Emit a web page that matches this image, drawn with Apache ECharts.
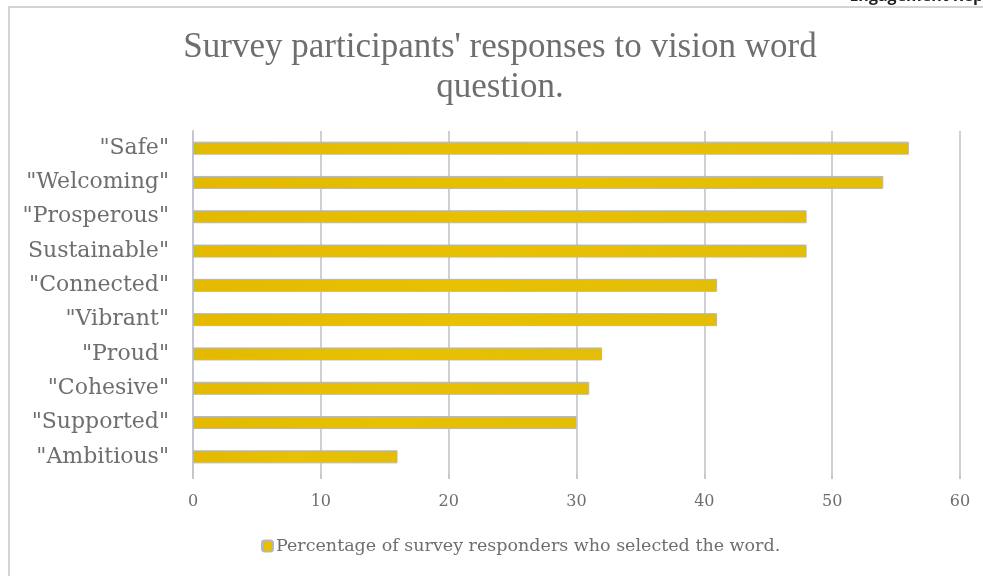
<!DOCTYPE html>
<html>
<head>
<meta charset="utf-8">
<script src="https://cdn.jsdelivr.net/npm/echarts@6/dist/echarts.min.js"></script>
<style>
  html, body { margin: 0; padding: 0; background: #fff; }
  #chart { width: 983px; height: 576px; }
</style>
</head>
<body>
<div id="chart"></div>
<script>
const words = ['"Safe"', '"Welcoming"', '"Prosperous"', 'Sustainable"', '"Connected"',
               '"Vibrant"', '"Proud"', '"Cohesive"', '"Supported"', '"Ambitious"'];
const percentages = [56, 54, 48, 48, 41, 41, 32, 31, 30, 16];
const xTicks = [0, 10, 20, 30, 40, 50, 60];
const seriesName = 'Percentage of survey responders who selected the word.';

const serif = '"Liberation Serif", "DejaVu Serif", serif';
const wideSerif = '"DejaVu Serif", serif';
const textGrey = '#6e6e6e';

const chart = echarts.init(document.getElementById('chart'));

chart.setOption({
  animation: false,
  backgroundColor: '#fff',
  title: {
    text: "Survey participants' responses to vision word\nquestion.",
    left: 495,
    textAlign: 'center',
    top: 23,
    textStyle: {
      fontFamily: serif,
      fontWeight: 'normal',
      fontSize: 35,
      lineHeight: 40,
      color: textGrey
    }
  },
  legend: {
    data: [seriesName],
    bottom: 16,
    left: 256,
    itemWidth: 11,
    itemHeight: 11,
    itemGap: 4,
    textStyle: { fontFamily: wideSerif, fontSize: 17.5, color: textGrey, padding: [0, 0, 0, -2] }
  },
  grid: { left: 193, right: 23, top: 131, bottom: 102, containLabel: false },
  xAxis: {
    type: 'value',
    min: xTicks[0],
    max: xTicks[xTicks.length - 1],
    interval: 10,
    axisLine: { show: false },
    axisTick: { show: true, length: 5, lineStyle: { color: '#c8c8c8', width: 2 } },
    axisLabel: { margin: 20, fontFamily: wideSerif, fontSize: 16, color: textGrey },
    splitLine: { show: true, lineStyle: { color: '#cfcfd6', width: 2 } }
  },
  yAxis: {
    type: 'category',
    inverse: true,
    data: words,
    axisLine: { show: true, lineStyle: { color: '#c6c6d0', width: 2 } },
    axisTick: { show: false },
    axisLabel: { margin: 24, fontFamily: wideSerif, fontSize: 22, color: textGrey }
  },
  series: [{
    name: seriesName,
    type: 'bar',
    data: percentages,
    barWidth: 13,
    itemStyle: {
      color: new echarts.graphic.LinearGradient(0, 0, 1, 0, [
        { offset: 0, color: '#c9c214' },
        { offset: 0.01, color: '#e4b900' },
        { offset: 0.5, color: '#e8c103' },
        { offset: 1, color: '#e3bd08' }
      ]),
      borderColor: '#b8b8b0',
      borderWidth: 1
    }
  }],
  graphic: [
    {
      type: 'rect',
      shape: { x: 9, y: 7, width: 990, height: 600 },
      style: { fill: 'none', stroke: '#d4d4d4', lineWidth: 2 },
      silent: true
    },
    {
      type: 'text',
      right: 0,
      top: -12,
      style: { text: 'Engagement Rep', fontFamily: '"Open Sans", sans-serif', fontWeight: 'bold', fontSize: 16, fill: '#222' },
      silent: true
    }
  ]
});
</script>
</body>
</html>
